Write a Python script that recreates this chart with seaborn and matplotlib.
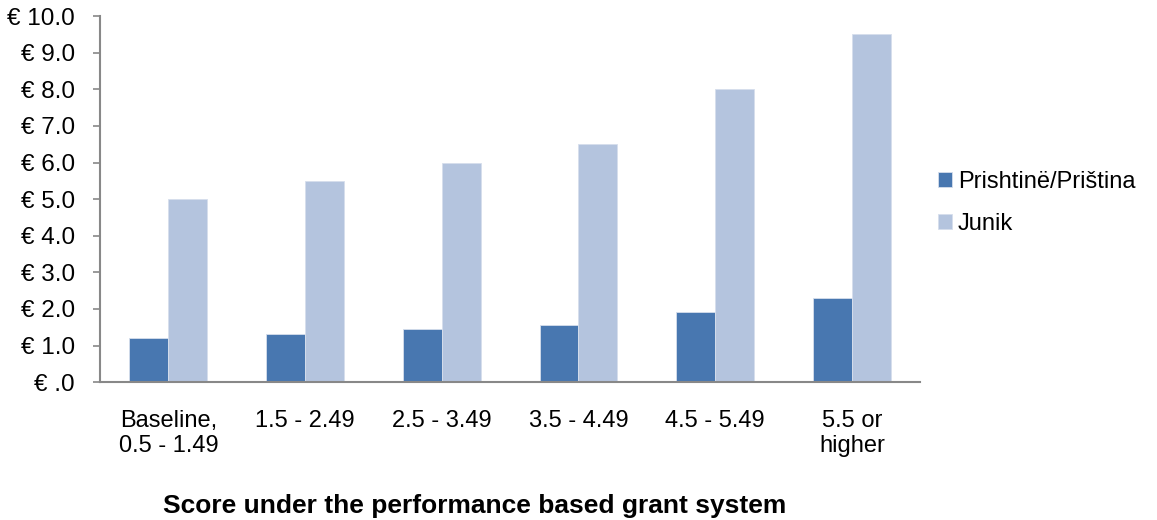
import pandas as pd
import matplotlib
matplotlib.use("Agg")
import matplotlib.pyplot as plt
import seaborn as sns
from matplotlib.ticker import FuncFormatter, MultipleLocator

sns.set_theme(style="white")
plt.rcParams["font.family"] = ["Liberation Sans", "DejaVu Sans"]
plt.rcParams["text.color"] = "black"
plt.rcParams["xtick.labelcolor"] = "black"
plt.rcParams["ytick.labelcolor"] = "black"

# ── Data ──────────────────────────────────────────────────────────────────────
categories = ["Baseline,\n0.5 - 1.49", "1.5 - 2.49", "2.5 - 3.49",
              "3.5 - 4.49", "4.5 - 5.49", "5.5 or\nhigher"]
prishtina = [1.20, 1.32, 1.44, 1.56, 1.92, 2.29]
junik = [5.0, 5.5, 6.0, 6.5, 8.0, 9.5]
series = ["Prishtinë/Priština", "Junik"]

df = pd.DataFrame({
    "category": categories * 2,
    "value": prishtina + junik,
    "series": [series[0]] * len(categories) + [series[1]] * len(categories),
})

palette = {series[0]: "#4877B0", series[1]: "#B4C4DE"}

# ── Plot ──────────────────────────────────────────────────────────────────────
fig = plt.figure(figsize=(11.57, 5.2), dpi=100)
ax = fig.add_axes([0.0864, 0.265, 0.709, 0.704])

sns.barplot(data=df, x="category", y="value", hue="series", palette=palette,
            width=0.57, saturation=1, edgecolor="#D6DEEC", linewidth=0.6, ax=ax)

ax.set_ylim(0, 10)
ax.set_xlim(-0.5, 5.5)
ax.yaxis.set_major_locator(MultipleLocator(1))


def euro(v, pos):
    if v == 0:
        return "€ .0"
    return f"€ {v:.1f}"


ax.yaxis.set_major_formatter(FuncFormatter(euro))

for side in ["top", "right"]:
    ax.spines[side].set_visible(False)
for side in ["left", "bottom"]:
    ax.spines[side].set_color("#888888")
    ax.spines[side].set_linewidth(1.5)

ax.tick_params(axis="y", which="major", left=True, length=5, width=1.2,
               color="#888888", labelsize=17.5, pad=13)
ax.tick_params(axis="x", bottom=False, labelsize=17, pad=14)
for lab in ax.get_xticklabels():
    lab.set_linespacing(1.15)
ax.set_xlabel("")
ax.set_ylabel("")

fig.text(0.41, 0.0135, "Score under the performance based grant system",
         ha="center", va="baseline", fontsize=19, fontweight="bold")

handles, labels = ax.get_legend_handles_labels()
ax.legend(handles, labels, loc="center left", bbox_to_anchor=(0.792, 0.61),
          bbox_transform=fig.transFigure, frameon=False, fontsize=17,
          handlelength=0.6, handleheight=0.6, handletextpad=0.25,
          labelspacing=0.85)

fig.savefig("out.png", dpi=100)
plt.close()
